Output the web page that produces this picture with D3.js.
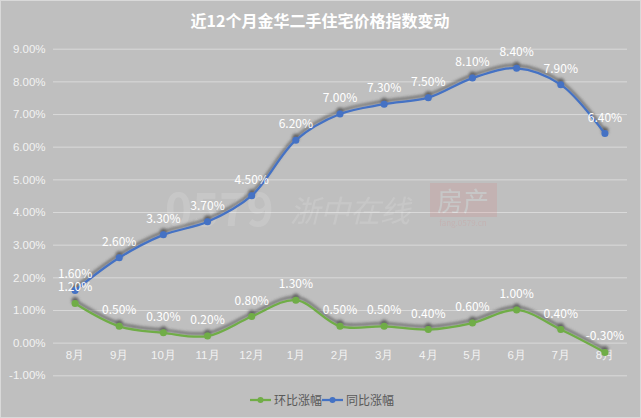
<!DOCTYPE html>
<html>
<head>
<meta charset="utf-8">
<script src="https://cdn.jsdelivr.net/npm/d3@7"></script>
<style>
  body { margin: 0; background: #ffffff; }
  svg { display: block; font-family: "Noto Sans CJK SC", "Noto Sans", sans-serif; }
</style>
</head>
<body>
<svg id="chart" width="641" height="418"></svg>
<script>
// months along the x axis
let months = ['8月', '9月', '10月', '11月', '12月', '1月', '2月', '3月', '4月', '5月', '6月', '7月', '8月'];
// 环比 (month on month), percent
let momValues = [1.2, 0.5, 0.3, 0.2, 0.8, 1.3, 0.5, 0.5, 0.4, 0.6, 1.0, 0.4, -0.3];
// 同比 (year on year), percent
let yoyValues = [1.6, 2.6, 3.3, 3.7, 4.5, 6.2, 7.0, 7.3, 7.5, 8.1, 8.4, 7.9, 6.4];
let yTicks = [-1, 0, 1, 2, 3, 4, 5, 6, 7, 8, 9];
let seriesNames = ['环比涨幅', '同比涨幅'];
let seriesColors = ['#70ad47', '#4472c4'];

window.onload = function(){
    drawChart();
};

function drawChart(){
    let svg = d3.select("#chart");
    let width = 641, height = 418;

    // background + thin frame
    svg.append("rect")
        .attr("x", 0.5).attr("y", 0.5)
        .attr("width", width - 1).attr("height", height - 1)
        .attr("fill", "#bfbfbf")
        .attr("stroke", "#d9d9d9");

    // shadow filter for lines and markers
    let defs = svg.append("defs");
    let f = defs.append("filter").attr("id", "shadow")
        .attr("x", "-10%").attr("y", "-30%").attr("width", "120%").attr("height", "160%");
    f.append("feDropShadow")
        .attr("dx", 0).attr("dy", -3)
        .attr("stdDeviation", 1.6)
        .attr("flood-color", "#404040")
        .attr("flood-opacity", 0.75);

    let x = d3.scaleBand()
        .domain(d3.range(months.length))
        .range([53, 627]);

    let y = d3.scaleLinear()
        .domain([-1, 9])
        .range([375.3, 48.7]);

    // title
    svg.append("text")
        .attr("x", 320).attr("y", 27)
        .attr("text-anchor", "middle")
        .attr("fill", "#ffffff")
        .attr("font-size", 16)
        .attr("font-weight", "bold")
        .text("近12个月金华二手住宅价格指数变动");

    // gridlines + y labels
    let yAxis = d3.axisLeft(y)
        .tickValues(yTicks)
        .tickSize(-(627 - 53))
        .tickPadding(8)
        .tickFormat(function(d){ return d.toFixed(2) + "%"; });

    let gy = svg.append("g")
        .attr("transform", "translate(53,0)")
        .call(yAxis);
    gy.select(".domain").remove();
    gy.selectAll(".tick line").attr("stroke", "#d9d9d9").attr("stroke-width", 1);
    gy.selectAll(".tick text")
        .attr("fill", "#f2f2f2")
        .attr("font-size", 11.5)
        .attr("x", -7.5);

    // x labels sit just below the 0% line
    let xAxis = d3.axisBottom(x)
        .tickSize(0)
        .tickPadding(8)
        .tickFormat(function(i){ return months[i]; });

    let gx = svg.append("g")
        .attr("transform", "translate(0," + y(0) + ")")
        .call(xAxis);
    gx.select(".domain").remove();
    gx.selectAll(".tick text")
        .attr("fill", "#f2f2f2")
        .attr("font-size", 11.5);

    drawWatermark(svg);

    let series = [momValues, yoyValues];
    let cx = function(d, i){ return x(i) + x.bandwidth() / 2; };

    let line = d3.line()
        .x(function(d, i){ return cx(d, i); })
        .y(function(d){ return y(d); })
        .curve(d3.curveCatmullRom.alpha(0.5));

    series.forEach(function(vals, s){
        let g = svg.append("g").attr("filter", "url(#shadow)");
        g.append("path")
            .datum(vals)
            .attr("d", line)
            .attr("fill", "none")
            .attr("stroke", seriesColors[s])
            .attr("stroke-width", 2.25);
        g.selectAll("circle").data(vals)
            .enter()
            .append("circle")
            .attr("cx", cx)
            .attr("cy", function(d){ return y(d); })
            .attr("r", 3.5)
            .attr("fill", seriesColors[s]);
    });

    // data labels above each point
    series.forEach(function(vals){
        svg.append("g").selectAll("text").data(vals)
            .enter()
            .append("text")
            .attr("x", cx)
            .attr("y", function(d){ return y(d) - 12; })
            .attr("text-anchor", "middle")
            .attr("fill", "#ffffff")
            .attr("font-size", 12)
            .text(function(d){ return d.toFixed(2) + "%"; });
    });

    // legend
    let legend = svg.append("g").attr("transform", "translate(250,400)");
    let lx = [0, 72];
    seriesNames.forEach(function(name, s){
        let lg = legend.append("g").attr("transform", "translate(" + lx[s] + ",0)");
        lg.append("line")
            .attr("x1", 0).attr("x2", 21)
            .attr("stroke", seriesColors[s]).attr("stroke-width", 2.25);
        lg.append("circle").attr("cx", 10.5).attr("r", 3).attr("fill", seriesColors[s]);
        lg.append("text")
            .attr("x", 24).attr("y", 4.5)
            .attr("fill", "#595959")
            .attr("font-size", 12)
            .text(name);
    });
}

function drawWatermark(svg){
    // faint site logo in the middle of the plot
    let wm = svg.append("g").attr("opacity", 0.13);
    wm.append("text")
        .attr("x", 165).attr("y", 226)
        .attr("fill", "#ffffff")
        .attr("font-size", 46)
        .attr("font-weight", "bold")
        .text("0579");
    wm.append("text")
        .attr("x", 290).attr("y", 222)
        .attr("fill", "#ffffff")
        .attr("font-size", 30)
        .attr("font-style", "italic")
        .text("浙中在线");
    wm.append("rect")
        .attr("x", 430).attr("y", 183)
        .attr("width", 67).attr("height", 34)
        .attr("fill", "#e06060");
    wm.append("text")
        .attr("x", 463).attr("y", 211)
        .attr("text-anchor", "middle")
        .attr("fill", "#ffffff")
        .attr("font-size", 26)
        .text("房产");
    wm.append("text")
        .attr("x", 463).attr("y", 226)
        .attr("text-anchor", "middle")
        .attr("fill", "#e06060")
        .attr("font-size", 8)
        .text("fang.0579.cn");
}
</script>
</body>
</html>
